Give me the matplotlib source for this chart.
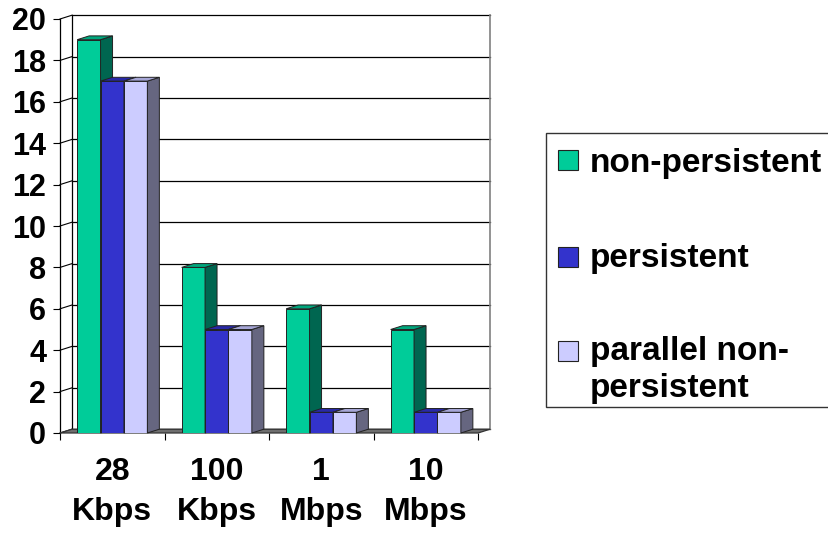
import matplotlib
matplotlib.use("Agg")
import matplotlib.pyplot as plt
from matplotlib.patches import Polygon, Rectangle
import numpy as np

plt.rcParams['font.family'] = ['Liberation Sans', 'DejaVu Sans']
plt.rcParams['font.weight'] = 'bold'

# data
categories = ['28\nKbps', '100\nKbps', '1\nMbps', '10\nMbps']
series = ['non-persistent', 'persistent', 'parallel non-\npersistent']
non_persistent = [19, 8, 6, 5]
persistent = [17, 5, 1, 1]
parallel_np = [17, 5, 1, 1]
values = [non_persistent, persistent, parallel_np]

front_colors = ['#00CC99', '#3333CC', '#CCCCFF']
top_colors = ['#00A67C', '#2929A6', '#A6A6D6']
side_colors = ['#006650', '#1A1A80', '#666680']

W, H = 829, 536
fig = plt.figure(figsize=(W / 100, H / 100), dpi=100)

def fx(x):
    return x / W

def fy(y):
    return 1 - y / H

ax = fig.add_axes([fx(60), fy(433), fx(478) - fx(60), fy(19) - fy(433)])
ax.set_xlim(-0.5, 3.5)
ax.set_ylim(0, 20)
ax.patch.set_visible(False)

# depth of the fake 3D box, in data units
dx = 12 / (418 / 4)
dy = 3.8 / (414 / 20)

x = np.arange(len(categories))
bw = 0.224

# back wall + left wall lines
for v in range(0, 21, 2):
    ax.plot([-0.5 + dx, 3.5 + dx], [v + dy, v + dy], color='black', lw=0.9,
            clip_on=False, zorder=1)
    ax.plot([-0.5, -0.5 + dx], [v, v + dy], color='black', lw=0.8,
            clip_on=False, zorder=1)
ax.plot([-0.5 + dx, -0.5 + dx], [dy, 20 + dy], color='black', lw=0.9,
        clip_on=False, zorder=1)
ax.plot([3.5 + dx, 3.5 + dx], [dy, 20 + dy], color='#808080', lw=1.2,
        clip_on=False, zorder=1)

# floor
floor = Polygon([(-0.5, 0), (3.5, 0), (3.5 + dx, dy), (-0.5 + dx, dy)],
                closed=True, facecolor='#6e6e6e', edgecolor='#333333',
                lw=0.9, clip_on=False, zorder=2)
ax.add_patch(floor)

# bars with top and side faces
for i, vals in enumerate(values):
    pos = x + (i - 1) * bw
    z = 3 + i
    ax.bar(pos, vals, width=bw, color=front_colors[i], edgecolor='#222222',
           lw=0.7, zorder=z)
    for p, v in zip(pos, vals):
        l, r = p - bw / 2, p + bw / 2
        top = Polygon([(l, v), (r, v), (r + dx, v + dy), (l + dx, v + dy)],
                      closed=True, facecolor=top_colors[i],
                      edgecolor='#222222', lw=0.7, zorder=z, clip_on=False)
        side = Polygon([(r, 0), (r, v), (r + dx, v + dy), (r + dx, dy)],
                       closed=True, facecolor=side_colors[i],
                       edgecolor='#222222', lw=0.7, zorder=z, clip_on=False)
        ax.add_patch(side)
        ax.add_patch(top)

# axes styling
for s in ['top', 'right', 'bottom']:
    ax.spines[s].set_visible(False)
ax.spines['left'].set_color('black')
ax.spines['left'].set_linewidth(0.9)
ax.spines['left'].set_zorder(1)

ax.set_yticks(range(0, 21, 2))
ax.tick_params(axis='y', length=5, width=0.8, pad=5, labelsize=22)
ax.set_xticks(x)
ax.set_xticklabels(categories, linespacing=1.45)
ax.set_xticks(np.arange(-0.5, 4, 1), minor=True)
ax.tick_params(axis='x', which='major', length=0, pad=17, labelsize=23)
ax.tick_params(axis='x', which='minor', length=5, width=0.8, direction='out')
for t in ax.get_xticklabels() + ax.get_yticklabels():
    t.set_fontweight('bold')

# legend drawn by hand to keep the Excel-like layout
fig.patches.append(Rectangle((fx(546), fy(407)), fx(300), fy(133) - fy(407),
                             transform=fig.transFigure, facecolor='white',
                             edgecolor='#333333', lw=1.0))
swatch_y = [150, 247, 341]
baselines = [[172], [267], [360, 397]]
lines = [['non-persistent'], ['persistent'], ['parallel non-', 'persistent']]
for i in range(len(series)):
    fig.patches.append(Rectangle((fx(558), fy(swatch_y[i] + 20)), fx(20),
                                 fy(swatch_y[i]) - fy(swatch_y[i] + 20),
                                 transform=fig.transFigure,
                                 facecolor=front_colors[i],
                                 edgecolor='#222222', lw=0.8))
    for txt, b in zip(lines[i], baselines[i]):
        fig.text(fx(590), fy(b), txt, fontsize=24, fontweight='bold',
                 va='baseline', ha='left')

fig.savefig('out.png', dpi=100)
